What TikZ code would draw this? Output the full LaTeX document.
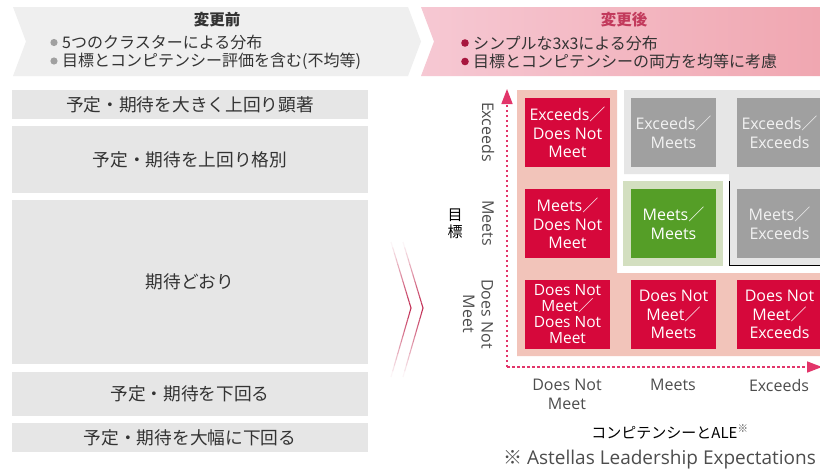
\documentclass[tikz,border=0pt]{standalone}
\usepackage{fontspec}
\setmainfont{Open Sans}
\newfontfamily\jp{Noto Sans CJK JP}
\usetikzlibrary{arrows.meta,calc}
\definecolor{cellred}{HTML}{D6083B}
\definecolor{cellgray}{HTML}{A0A0A0}
\definecolor{cellgreen}{HTML}{559E27}
\definecolor{greenpanel}{HTML}{D3DFC0}
\definecolor{panelgray}{HTML}{E6E6E6}
\definecolor{pinkbg}{HTML}{F2C4BA}
\definecolor{boxgray}{HTML}{E6E6E6}
\definecolor{bannergray}{HTML}{EFEFEF}
\definecolor{pinkL}{HTML}{F6C8D3}
\definecolor{pinkR}{HTML}{F0A6B0}
\definecolor{axisred}{HTML}{E2356A}
\definecolor{txtdark}{HTML}{333333}
\definecolor{txtgray}{HTML}{4D4D4D}
\definecolor{titlered}{HTML}{C23A5C}
\definecolor{dotred}{HTML}{A8163E}
\definecolor{dotgray}{HTML}{A0A0A0}
\definecolor{chevred}{HTML}{C0274F}
\newcommand\fwslash{{\jp ／}}
\begin{document}
\begin{tikzpicture}[x=1pt,y=-1pt,
  cell/.style={minimum width=85, minimum height=69, inner sep=0, align=center,
    text=white, font=\fontsize{16}{18.5}\selectfont},
  redcell/.style={cell, fill=cellred},
  graycell/.style={cell, fill=cellgray, text=white!95!black},
  greencell/.style={cell, fill=cellgreen},
  lbox/.style={fill=boxgray, minimum width=356, inner sep=0, text=txtdark,
    font=\jp\fontsize{17.7}{20}\selectfont},
  hdtext/.style={anchor=west, inner sep=0, text=txtdark, font=\jp\fontsize{16}{18}\selectfont},
  hdtitle/.style={inner sep=0, font=\jp\bfseries\fontsize{15.5}{17}\selectfont},
  axlab/.style={inner sep=0, align=center, text=txtgray, font=\fontsize{16}{18.5}\selectfont},
  axisline/.style={axisred, line width=1.6, dash pattern=on 2.5pt off 2.5pt,
    -{Triangle[length=15pt,width=11pt]}},
  chev/.style={chevred, line width=1.1}
]
\clip (0,0) rectangle (820,471);
\fill[white] (0,0) rectangle (820,471);

% header banners
\fill[bannergray] (13,7) -- (408,7) -- (421,41.5) -- (408,76) -- (13,76) -- (26,41.5) -- cycle;
\shade[left color=pinkL, right color=pinkR] (421,7) -- (830,7) -- (830,76) -- (421,76) -- (434,41.5) -- cycle;

\node[hdtitle, text=txtdark] (beforeT) at (217,20) {変更前};
\fill[dotgray] (54,42.5) circle (3.6);
\fill[dotgray] (54,61) circle (3.6);
\node[hdtext] (b1) at (62,42.5) {5つのクラスターによる分布};
\node[hdtext] (b2) at (62,61) {目標とコンピテンシー評価を含む(不均等)};

\node[hdtitle, text=titlered] (afterT) at (624,20) {変更後};
\fill[dotred] (465,43) circle (3.8);
\fill[dotred] (465,61.5) circle (3.8);
\node[hdtext] (a1) at (473,43) {シンプルな3x3による分布};
\node[hdtext] (a2) at (473,61.5) {目標とコンピテンシーの両方を均等に考慮};

% left boxes
\node[lbox, minimum height=29] (l1) at (190,104.5) {予定・期待を大きく上回り顕著};
\node[lbox, minimum height=67] (l2) at (190,159.5) {予定・期待を上回り格別};
\node[lbox, minimum height=164] (l3) at (190,282) {期待どおり};
\node[lbox, minimum height=44] (l4) at (190,394) {予定・期待を下回る};
\node[lbox, minimum height=29] (l5) at (190,437.5) {予定・期待を大幅に下回る};

% chevrons (fading ends)
\foreach \ox in {0,12}{
  \coordinate (ct) at (391+\ox,242);
  \coordinate (ca) at (411+\ox,308);
  \coordinate (cb) at (391+\ox,377);
  \foreach \i in {0,...,11}{
    \pgfmathsetmacro\op{(\i+0.5)/12}
    \draw[chev, opacity=\op] ($(ct)!\i/12!(ca)$) -- ($(ct)!{(\i+1)/12}!(ca)$);
    \draw[chev, opacity=\op] ($(cb)!\i/12!(ca)$) -- ($(cb)!{(\i+1)/12}!(ca)$);
  }
}

% matrix backgrounds
\fill[pinkbg] (517,90) -- (617,90) -- (617,273) -- (822,273) -- (822,356) -- (517,356) -- cycle;
\fill[panelgray] (624,90) -- (822,90) -- (822,265) -- (729,265) -- (729,174) -- (624,174) -- cycle;
\draw[black, line width=0.8] (729,181) -- (729,265) -- (822,265);
\fill[greenpanel] (623,181) rectangle (723,266);

% cells
\node[redcell] (c11) at (567.5,132.5) {Exceeds\fwslash\\Does Not\\Meet};
\node[graycell] (c12) at (673.5,132.5) {Exceeds\fwslash\\Meets};
\node[graycell] (c13) at (779.5,132.5) {Exceeds\fwslash\\Exceeds};
\node[redcell] (c21) at (567.5,223.5) {Meets\fwslash\\Does Not\\Meet};
\node[greencell] (c22) at (673.5,223.5) {Meets\fwslash\\Meets};
\node[graycell] (c23) at (779.5,223.5) {Meets\fwslash\\Exceeds};
\node[redcell, font=\fontsize{15.5}{16}\selectfont] (c31) at (567.5,314.5) {Does Not\\Meet\fwslash\\Does Not\\Meet};
\node[redcell] (c32) at (673.5,314.5) {Does Not\\Meet\fwslash\\Meets};
\node[redcell] (c33) at (779.5,314.5) {Does Not\\Meet\fwslash\\Exceeds};

% axes
\coordinate (origin) at (507,367);
\coordinate (ytop) at (507,89);
\coordinate (xend) at (822,367);
\draw[axisline] (origin) -- (ytop);
\draw[axisline] (origin) -- (xend);

% axis labels
\node[axlab, rotate=-90] (yl1) at (488,132) {Exceeds};
\node[axlab, rotate=-90] (yl2) at (488,223) {Meets};
\node[axlab, rotate=-90] (yl3) at (478,314) {Does Not\\Meet};
\node[inner sep=0, align=center, font=\jp\fontsize{15}{17}\selectfont] (ylab) at (455,224) {目\\標};

\node[axlab] (xl1) at (567,394.5) {Does Not\\Meet};
\node[axlab] (xl2) at (673,385) {Meets};
\node[axlab] (xl3) at (779,385) {Exceeds};
\node[inner sep=0, font=\jp\fontsize{15}{17}\selectfont] (xlab) at (670,432)
  {コンピテンシーとALE\textsuperscript{\color{txtgray}※}};
\node[inner sep=0, anchor=west, text=txtgray, font=\fontsize{19}{21}\selectfont] (note) at (503,460)
  {{\jp ※} Astellas Leadership Expectations};
\end{tikzpicture}
\end{document}
